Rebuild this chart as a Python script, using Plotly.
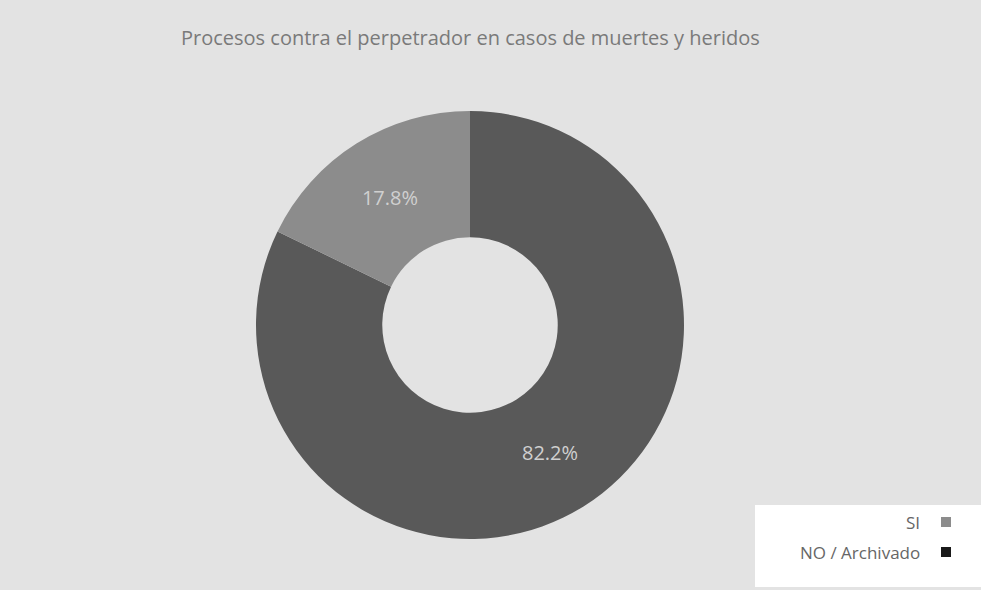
import plotly.graph_objects as go

W, H = 981, 590

categories = ["SI", "NO / Archivado"]
values = [17.8, 82.2]
colors = ["#8c8c8c", "#595959"]
legend_marker_colors = ["#8c8c8c", "#1a1a1a"]
title_text = "Procesos contra el perpetrador en casos de muertes y heridos"

cx, cy, r = 470, 325, 214

# drawn clockwise from 12 o'clock: NO first, so SI ends up just left of 12 o'clock
fig = go.Figure(go.Pie(
    labels=categories[::-1],
    values=values[::-1],
    hole=0.41,
    sort=False,
    direction="clockwise",
    rotation=0,
    marker=dict(colors=colors[::-1], line=dict(width=0)),
    textinfo="percent",
    texttemplate="%{percent:.1%}",
    textposition="inside",
    insidetextorientation="horizontal",
    textfont=dict(family="Open Sans", size=20, color="#d0d0d0"),
    domain=dict(x=[(cx - r) / W, (cx + r) / W], y=[(H - cy - r) / H, (H - cy + r) / H]),
    showlegend=False,
))

shapes = [dict(type="rect", xref="paper", yref="paper",
               x0=755 / W, x1=1.0, y0=(H - 587) / H, y1=(H - 505) / H,
               fillcolor="white", line=dict(width=0), layer="below")]
annotations = [dict(text=title_text, x=cx / W, y=(H - 38) / H, xref="paper", yref="paper",
                    showarrow=False, xanchor="center", yanchor="middle",
                    font=dict(family="Open Sans", size=20, color="#7a7a7a"))]
legend_y = [522, 552]
for cat, col, ly in zip(categories, legend_marker_colors, legend_y):
    shapes.append(dict(type="rect", xref="paper", yref="paper",
                       x0=941 / W, x1=951 / W, y0=(H - ly - 5) / H, y1=(H - ly + 5) / H,
                       fillcolor=col, line=dict(width=0)))
    annotations.append(dict(text=cat, x=922 / W, y=(H - ly) / H, xref="paper", yref="paper",
                            showarrow=False, xanchor="right", yanchor="middle",
                            font=dict(family="Open Sans", size=17, color="#666666")))

fig.update_layout(
    width=W, height=H,
    margin=dict(l=0, r=0, t=0, b=0),
    paper_bgcolor="#e3e3e3",
    plot_bgcolor="#e3e3e3",
    shapes=shapes,
    annotations=annotations,
)

fig.write_html("out.html")
